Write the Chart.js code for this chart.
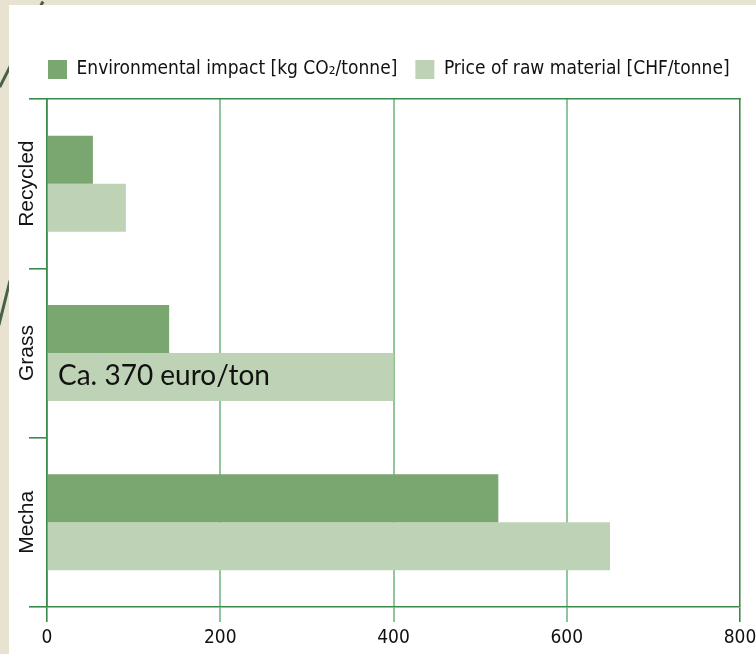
<!DOCTYPE html>
<html><head><meta charset="utf-8">
<script src="https://cdn.jsdelivr.net/npm/chart.js@4.4.1/dist/chart.umd.min.js"></script>
<style>
html,body{margin:0;padding:0;}
body{width:756px;height:654px;background:#e7e3d0;position:relative;overflow:hidden;}
.deco{position:absolute;height:3px;background:#46604c;transform-origin:0 50%;}
#panel{position:absolute;left:9px;top:5px;right:0;bottom:0;background:#fff;}
#wrap{position:absolute;left:0;top:0;width:756px;height:654px;}
</style></head><body>
<div class="deco" style="left:43px;top:0;width:96px;transform:rotate(116.8deg)"></div>
<div class="deco" style="left:10px;top:279px;width:46px;transform:rotate(104deg)"></div>
<div id="panel"></div>
<div id="wrap"><canvas id="c" width="756" height="654"></canvas></div>
<script>
const categories = ['Recycled', 'Grass', 'Mecha'];
const envImpact = [53, 141, 521];
const rawPrice = [91, 400, 650];
const xTickValues = [0, 200, 400, 600, 800];
const seriesNames = ['Environmental impact [kg CO\u2082/tonne]', 'Price of raw material [CHF/tonne]'];
const annotationText = 'Ca. 370 euro/ton';

const DARK = '#3b8c4c';
const LIGHT = '#90c699';
const NARROW = "'DejaVu Sans Condensed', 'Liberation Sans Narrow', sans-serif";

const yLabelPlugin = {
  id: 'yLabels',
  afterDraw(chart) {
    const ys = chart.scales.y;
    const ctx = chart.ctx;
    ctx.save();
    ctx.font = '21px "Liberation Sans", Arial, sans-serif';
    ctx.fillStyle = '#141414';
    ctx.textAlign = 'center';
    ctx.textBaseline = 'middle';
    ys.ticks.forEach((t, i) => {
      const y = ys.getPixelForTick(i);
      ctx.save();
      ctx.translate(ys.right - 20, y);
      ctx.rotate(-Math.PI / 2);
      ctx.fillText(ys.getLabelForValue(t.value), 0, 0);
      ctx.restore();
    });
    ctx.restore();
  }
};

const annotationPlugin = {
  id: 'annot',
  afterDatasetsDraw(chart) {
    const ctx = chart.ctx;
    const bar = chart.getDatasetMeta(1).data[categories.indexOf('Grass')];
    const x = chart.scales.x.getPixelForValue(0) + 11;
    ctx.save();
    ctx.font = '28px Lato, "Open Sans", sans-serif';
    ctx.fillStyle = '#111';
    ctx.textAlign = 'left';
    ctx.textBaseline = 'alphabetic';
    ctx.fillText(annotationText, x, bar.y + 8);
    ctx.restore();
  }
};

new Chart(document.getElementById('c'), {
  type: 'bar',
  data: {
    labels: categories,
    datasets: [
      { label: seriesNames[0], data: envImpact, backgroundColor: '#7aa66f', borderWidth: 0 },
      { label: seriesNames[1], data: rawPrice, backgroundColor: '#bed2b5', borderWidth: 0 }
    ]
  },
  options: {
    indexAxis: 'y',
    responsive: false,
    animation: false,
    devicePixelRatio: 1,
    layout: { padding: { top: 42, left: 30, right: 0, bottom: 0 } },
    datasets: { bar: { categoryPercentage: 0.567, barPercentage: 1 } },
    scales: {
      x: {
        type: 'linear', position: 'bottom', min: 0, max: 800,
        afterBuildTicks: s => { s.ticks = xTickValues.map(v => ({ value: v })); },
        ticks: { padding: 5, color: '#111', font: { family: NARROW, size: 19 } },
        grid: {
          color: c => (c.tick && (c.tick.value === 0 || c.tick.value === 800)) ? DARK : LIGHT,
          tickColor: c => (c.tick && (c.tick.value === 0 || c.tick.value === 800)) ? DARK : LIGHT,
          lineWidth: c => (c.tick && (c.tick.value === 0 || c.tick.value === 800)) ? 1.6 : 2,
          tickLength: 15
        },
        border: { display: true, color: DARK, width: 1.6 },
        afterFit: s => { s.height = 47; s.paddingRight = 16; s.paddingLeft = 0; }
      },
      x2: {
        type: 'linear', position: 'top', min: 0, max: 800,
        ticks: { display: false },
        grid: { display: false },
        border: { display: true, color: DARK, width: 1.6 },
        afterFit: s => { s.height = 10; }
      },
      y: {
        type: 'category',
        ticks: { display: false },
        grid: { offset: true, drawOnChartArea: false, tickLength: 18, color: DARK, lineWidth: 1.6 },
        border: { display: true, color: DARK, width: 1.6 },
        afterFit: s => { s.width = 17; }
      }
    },
    plugins: {
      legend: {
        position: 'top', align: 'start',
        labels: { boxWidth: 19, boxHeight: 19, padding: 18, color: '#111', font: { family: NARROW, size: 19 } }
      },
      tooltip: { enabled: false }
    }
  },
  plugins: [yLabelPlugin, annotationPlugin]
});
</script>
</body></html>
